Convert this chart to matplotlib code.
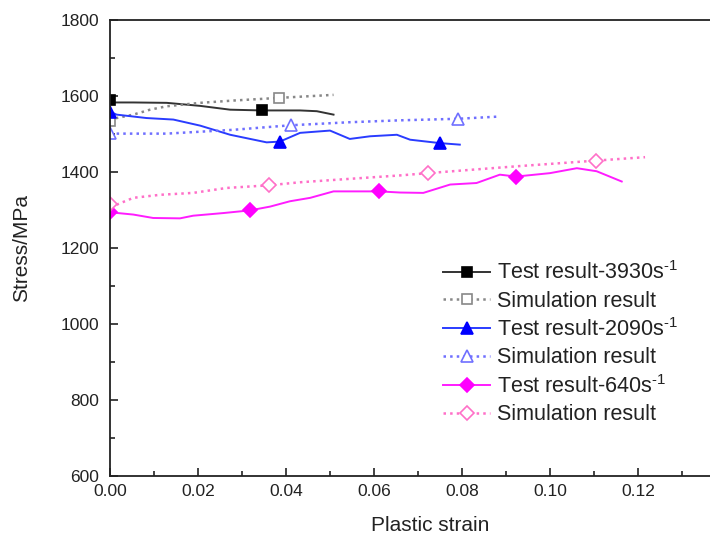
import matplotlib
matplotlib.use("Agg")
import matplotlib.pyplot as plt
from matplotlib.ticker import MultipleLocator

plt.rcParams['font.family'] = ['Liberation Sans', 'DejaVu Sans']

# ---- data ----
t3930_x = [0.0, 0.0008, 0.0053, 0.0129, 0.0205, 0.0273, 0.0345, 0.0432, 0.047, 0.0508]
t3930_y = [1583, 1583, 1583, 1582, 1574, 1564, 1562, 1562, 1560, 1551]
t3930_mx = [0.0, 0.0345]
t3930_my = [1590, 1562]

s3930_x = [0.0, 0.0015, 0.0053, 0.0091, 0.0129, 0.0205, 0.028, 0.0383, 0.0508]
s3930_y = [1533, 1542, 1551, 1564, 1573, 1582, 1588, 1595, 1603]
s3930_mx = [0.0, 0.0383]
s3930_my = [1533, 1595]

t2090_x = [0.0, 0.0015, 0.0083, 0.0144, 0.0205, 0.0273, 0.0356, 0.0386, 0.0432, 0.05,
           0.0545, 0.0591, 0.0652, 0.0682, 0.075, 0.0795]
t2090_y = [1559, 1551, 1542, 1538, 1522, 1498, 1478, 1480, 1503, 1509,
           1487, 1494, 1498, 1485, 1476, 1472]
t2090_mx = [0.0, 0.0386, 0.075]
t2090_my = [1559, 1480, 1476]

s2090_x = [0.0, 0.0129, 0.028, 0.0411, 0.0545, 0.0659, 0.079, 0.0886]
s2090_y = [1501, 1501, 1511, 1523, 1531, 1536, 1540, 1546]
s2090_mx = [0.0, 0.0411, 0.079]
s2090_my = [1503, 1523, 1540]

t640_x = [0.0, 0.0053, 0.0098, 0.0159, 0.0189, 0.0258, 0.0318, 0.0364, 0.0409, 0.0455,
          0.0508, 0.0553, 0.0612, 0.0659, 0.0712, 0.0773, 0.0833, 0.0886, 0.0923,
          0.1, 0.1061, 0.1106, 0.1163]
t640_y = [1294, 1288, 1279, 1278, 1285, 1292, 1299, 1309, 1323, 1332,
          1349, 1349, 1349, 1346, 1345, 1367, 1371, 1393, 1388,
          1397, 1410, 1402, 1375]
t640_mx = [0.0, 0.0318, 0.0612, 0.0923]
t640_my = [1294, 1299, 1349, 1388]

s640_x = [0.0, 0.0015, 0.0053, 0.0114, 0.0189, 0.0265, 0.0361, 0.0432, 0.0545, 0.0659,
          0.0722, 0.0924, 0.1105, 0.1216]
s640_y = [1316, 1314, 1332, 1340, 1345, 1358, 1365, 1373, 1382, 1391,
          1397, 1415, 1430, 1439]
s640_mx = [0.0, 0.0361, 0.0722, 0.1105]
s640_my = [1316, 1365, 1397, 1430]

labels = ['Test result-3930s' + r'$^{\mathregular{‐1}}$', 'Simulation result',
          'Test result-2090s' + r'$^{\mathregular{‐1}}$', 'Simulation result',
          'Test result-640s' + r'$^{\mathregular{‐1}}$', 'Simulation result']

x_ticks = [0.00, 0.02, 0.04, 0.06, 0.08, 0.10, 0.12]
y_ticks = [600, 800, 1000, 1200, 1400, 1600, 1800]

# ---- figure ----
W, H = 710, 536
ax_w_px = 640
fig = plt.figure(figsize=(W/100, H/100), dpi=100)
ax = fig.add_axes([110/W, 1-476/H, ax_w_px/W, 456/H])

series = [
    (t3930_x, t3930_y, t3930_mx, t3930_my, '#333333', '-', 's', '#000000', '#000000', 6.5),
    (s3930_x, s3930_y, s3930_mx, s3930_my, '#888888', ':', 's', 'white', '#888888', 7),
    (t2090_x, t2090_y, t2090_mx, t2090_my, '#2a3cff', '-', '^', '#0000ff', '#0000ff', 8.5),
    (s2090_x, s2090_y, s2090_mx, s2090_my, '#6f6fff', ':', '^', 'white', '#7070ff', 8.5),
    (t640_x, t640_y, t640_mx, t640_my, '#ff1cff', '-', 'D', '#ff00ff', '#ff00ff', 7),
    (s640_x, s640_y, s640_mx, s640_my, '#ff6fc8', ':', 'D', 'white', '#ff70c8', 7),
]

for (xs, ys, mx, my, c, ls, m, mfc, mec, ms), lab in zip(series, labels):
    lw = 1.4 if ls == '-' else 1.8
    ax.plot(xs, ys, color=c, linestyle=ls, linewidth=lw)
    ax.plot(mx, my, linestyle='none', marker=m, markersize=ms,
            markerfacecolor=mfc, markeredgecolor=mec, markeredgewidth=1.2)
    ax.plot([], [], color=c, linestyle=ls, linewidth=lw,
            marker=m, markersize=ms, markerfacecolor=mfc, markeredgecolor=mec,
            markeredgewidth=1.2, label=lab)

ax.set_xlim(0, ax_w_px/4400)
ax.set_ylim(600, 1800)
ax.set_xticks(x_ticks)
ax.set_xticklabels(['%.2f' % v for v in x_ticks])
ax.set_yticks(y_ticks)
ax.xaxis.set_minor_locator(MultipleLocator(0.01))
ax.yaxis.set_minor_locator(MultipleLocator(100))
ax.tick_params(which='both', direction='in', labelsize=12.5, colors='#222222',
               labelcolor='#222222', width=1.2)
ax.tick_params(which='major', length=6)
ax.tick_params(which='minor', length=3.5)
ax.tick_params(axis='x', pad=6)
ax.tick_params(axis='y', pad=8)
for s in ax.spines.values():
    s.set_linewidth(1.3)
    s.set_color('#222222')

ax.set_xlabel('Plastic strain', fontsize=15, color='#222222', labelpad=12)
ax.set_ylabel('Stress/MPa', fontsize=15, color='#222222', labelpad=21)

leg = ax.legend(loc='upper left', bbox_to_anchor=(0.507, 0.49), frameon=False,
                fontsize=15.5, handlelength=2.2, handletextpad=0.3,
                labelspacing=0.3, borderaxespad=0)
for t in leg.get_texts():
    t.set_color('#222222')

fig.savefig('out.png', dpi=100)
